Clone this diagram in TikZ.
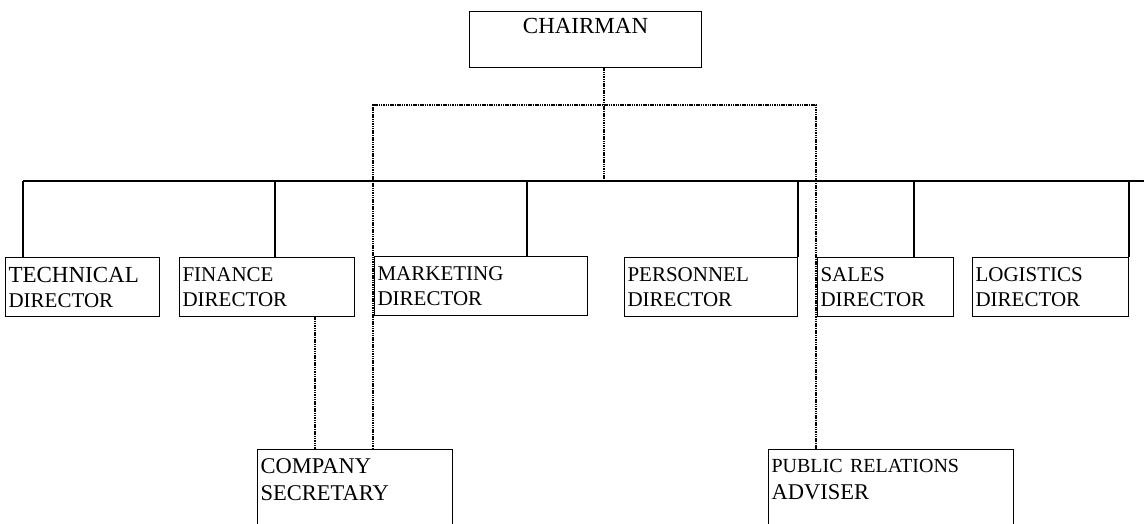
\documentclass[tikz,border=0pt]{standalone}
\usepackage{fontspec}
\setmainfont{Liberation Serif}
\usepackage{tikz}
\usetikzlibrary{positioning}

\begin{document}
\begin{tikzpicture}[x=1pt, y=-1pt,
    post/.style={draw, line width=1.1pt, anchor=north west, align=left, inner xsep=3pt, inner ysep=0pt,
                 text width=#1, minimum height=59pt, font=\fontsize{21}{25}\selectfont},
    head/.style={post=#1, align=center, minimum height=56pt, font=\fontsize{23}{27}\selectfont},
    staffbox/.style={post=#1, minimum height=86pt, font=\fontsize{22.5}{27}\selectfont},
    link/.style={line width=1.5pt},
    staff/.style={line width=1.4pt, dash pattern=on 1.5pt off 0.8pt}
]
    \clip (0,0) rectangle (1144,523);

    % chairman and the directors
    \node[head=226pt] (chairman) at (469,11) {CHAIRMAN\\~};
    \node[post=148pt] (technical) at (5,257) {{\fontsize{23}{25}\selectfont TECHNICAL}\\DIRECTOR};
    \node[post=169pt] (finance) at (179,257) {FINANCE\\DIRECTOR};
    \node[post=207pt] (marketing) at (374,256) {MARKETING\\DIRECTOR};
    \node[post=167pt] (personnel) at (624,257) {PERSONNEL\\DIRECTOR};
    \node[post=130pt] (sales) at (817,257) {SALES\\DIRECTOR};
    \node[post=150pt] (logistics) at (972,257) {LOGISTICS\\DIRECTOR};

    % staff posts, cut off at the foot of the page
    \node[staffbox=189pt] (secretary) at (257,449) {COMPANY\\SECRETARY\\~};
    \node[staffbox=239pt] (adviser) at (768,449) {{\fontsize{20}{27}\selectfont PUBLIC RELATIONS}\\ADVISER\\~};

    % line of command
    \coordinate (busL) at (23,181);
    \coordinate (busR) at (1144,181);
    \coordinate (tFin) at (275,181);
    \coordinate (tMkt) at (527,181);
    \coordinate (tSal) at (914,181);
    \draw[link] (busL) -- (busR);
    \draw[link] (busL) -- (busL |- technical.north);
    \draw[link] (tFin) -- (tFin |- finance.north);
    \draw[link] (tMkt) -- (tMkt |- marketing.north);
    \draw[link] (personnel.north east |- busL) -- (personnel.north east);
    \draw[link] (tSal) -- (tSal |- sales.north);
    \draw[link] (logistics.north east |- busL) -- (logistics.north east);

    % advisory lines
    \coordinate (cDrop) at (604,67);
    \coordinate (staffL) at (373,105);
    \coordinate (staffR) at (816,105);
    \coordinate (fDrop) at (315,316);
    \draw[staff] (cDrop) -- (cDrop |- busL);
    \draw[staff] (staffL |- secretary.north) -- (staffL) -- (staffR) -- (staffR |- adviser.north);
    \draw[staff] (fDrop) -- (fDrop |- secretary.north);
\end{tikzpicture}
\end{document}
